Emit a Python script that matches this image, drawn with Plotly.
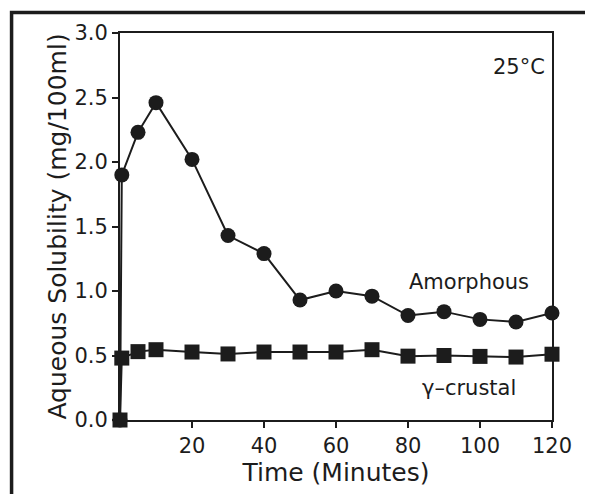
import plotly.graph_objects as go

# time in minutes
time_amorphous = [0, 0.5, 5, 10, 20, 30, 40, 50, 60, 70, 80, 90, 100, 110, 120]
sol_amorphous = [0.0, 1.90, 2.23, 2.46, 2.02, 1.43, 1.29, 0.93, 1.00, 0.96, 0.81, 0.84, 0.78, 0.76, 0.83]

time_gamma = [0, 0.5, 5, 10, 20, 30, 40, 50, 60, 70, 80, 90, 100, 110, 120]
sol_gamma = [0.0, 0.48, 0.53, 0.545, 0.527, 0.512, 0.527, 0.527, 0.527, 0.545, 0.495, 0.50, 0.493, 0.488, 0.51]

x_ticks = [20, 40, 60, 80, 100, 120]
y_ticks = [0.0, 0.5, 1.0, 1.5, 2.0, 2.5, 3.0]

ink = "#1c1c1c"
font = "DejaVu Sans, sans-serif"

fig = go.Figure()
fig.add_trace(go.Scatter(x=time_amorphous, y=sol_amorphous, mode="lines+markers",
                         line=dict(color=ink, width=2),
                         marker=dict(symbol="circle", size=15, color=ink),
                         cliponaxis=False, showlegend=False))
fig.add_trace(go.Scatter(x=time_gamma, y=sol_gamma, mode="lines+markers",
                         line=dict(color=ink, width=2),
                         marker=dict(symbol="square", size=15, color=ink),
                         cliponaxis=False, showlegend=False))

fig.add_annotation(x=110.8, y=2.74, text="25°C", showarrow=False)
fig.add_annotation(x=97, y=1.07, text="Amorphous", showarrow=False)
fig.add_annotation(x=97, y=0.25, text="γ–crustal", showarrow=False)

# outer frame of the figure panel
fig.add_shape(type="rect", xref="paper", yref="paper",
              x0=-0.251, y0=-0.4, x1=1.3, y1=1.053,
              line=dict(color=ink, width=3.5), layer="below")

fig.update_xaxes(range=[0, 120], tickvals=x_ticks, ticks="outside", ticklen=6, tickwidth=2,
                 tickcolor=ink, showline=True, linecolor=ink, linewidth=2, mirror=True,
                 showgrid=False, zeroline=False, title=dict(text="Time (Minutes)", standoff=4))
fig.update_yaxes(range=[0, 3], tickvals=y_ticks, tickformat=".1f", ticks="outside", ticklen=6,
                 tickwidth=2, tickcolor=ink, showline=True, linecolor=ink, linewidth=2, mirror=True,
                 showgrid=False, zeroline=False,
                 title=dict(text="Aqueous Solubility (mg/100ml)", standoff=1))

fig.update_layout(width=585, height=486, autosize=False,
                  margin=dict(l=112, r=41, t=25, b=74),
                  plot_bgcolor="white", paper_bgcolor="white",
                  font=dict(family=font, size=21, color=ink))

fig.write_html("out.html")
